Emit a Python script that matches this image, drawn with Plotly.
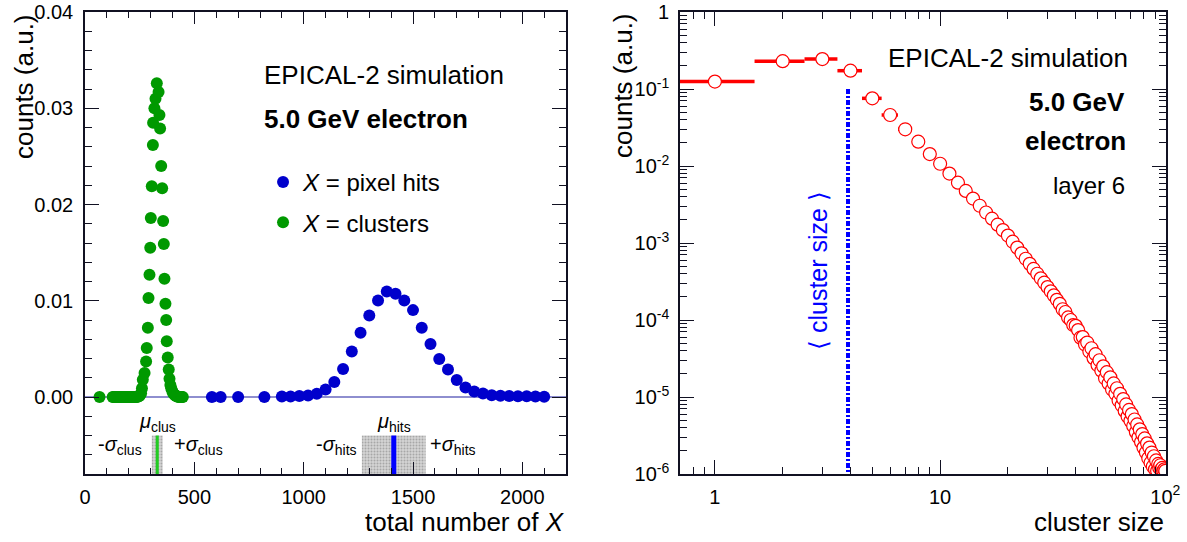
import plotly.graph_objects as go

# ---------------- left panel data ----------------
clus_x = [66, 126, 131, 135, 140, 144, 149, 153, 158, 162, 167, 171, 176, 180, 185,
          189, 194, 198, 203, 207, 212, 216, 221, 225, 230, 234, 239, 243, 248, 252,
          256, 260, 264, 272, 279, 282, 287, 290, 294.5, 298, 300.5, 305, 310, 311,
          317, 322, 328, 336, 340, 343, 348, 352.5, 357, 360, 363, 367.5, 371, 373.5,
          378, 382.5, 386, 390, 394, 399, 403, 408, 412, 417, 421, 425, 430, 434, 439,
          443, 447]
clus_y = [0, 0, 0, 0, 0, 0, 0, 0, 0, 0, 0, 0, 0, 0, 0,
          0, 0, 0, 0, 0, 0, 0, 0, 0, 0, 0, 0.00002, 0.00005, 0.0001, 0.0002,
          0.0004, 0.0009, 0.0018, 0.0025, 0.0037, 0.0051, 0.0072, 0.0103, 0.0127, 0.0155, 0.0186, 0.0219, 0.0262, 0.0285,
          0.0300, 0.0310, 0.0326, 0.0317, 0.0293, 0.0279, 0.0240, 0.0217, 0.0183, 0.0159, 0.0123, 0.0097, 0.0080, 0.0058,
          0.0041, 0.00285, 0.0019, 0.00125, 0.0009, 0.0006, 0.0004, 0.00025, 0.00015, 0.0001, 0.00005, 0.00002, 0, 0, 0,
          0, 0]

hits_x = [580, 620, 700, 820, 900, 940, 980, 1020, 1060, 1100, 1140, 1180, 1220, 1260,
          1300, 1340, 1380, 1420, 1460, 1500, 1540, 1580, 1620, 1660, 1700, 1740, 1780,
          1820, 1860, 1900, 1940, 1980, 2020, 2060, 2100]
hits_y = [0, 0, 0, 0, 0.00005, 0.00005, 0.0001, 0.00016, 0.00033, 0.00078, 0.00157, 0.00292,
          0.00472, 0.00668, 0.00848, 0.01004, 0.01097, 0.01073, 0.01004, 0.00903, 0.0072,
          0.00551, 0.00396, 0.00285, 0.00178, 0.00098, 0.00057, 0.00036, 0.00019, 0.00012,
          0.0001, 0.00008, 0.00008, 0.00006, 0.00003]

mu_clus, sigma_clus = 330, 25
mu_hits, sigma_hits = 1412, 146

# ---------------- right panel data ----------------
size_x = list(range(1, 101))
size_y = [0.125, 0.230, 0.245, 0.173, 0.0757, 0.046, 0.030, 0.0207, 0.0143, 0.0107,
          7.98e-3, 6.08e-3, 4.75e-3, 3.78e-3, 3.05e-3, 2.49e-3, 2.07e-3, 1.73e-3, 1.47e-3, 1.25e-3,
          1.04e-3, 8.71e-4, 7.35e-4, 6.25e-4, 5.36e-4, 4.61e-4, 3.99e-4, 3.48e-4, 3.05e-4, 2.68e-4,
          2.36e-4, 2.09e-4, 1.83e-4, 1.62e-4, 1.38e-4, 1.27e-4, 1.08e-4, 1.00e-4, 8.6e-5, 8.4e-5,
          7.4e-5, 5.9e-5, 6.0e-5, 4.8e-5, 5.1e-5, 3.9e-5, 4.3e-5, 3.2e-5, 3.6e-5, 2.6e-5,
          3.0e-5, 2.2e-5, 2.5e-5, 1.75e-5, 2.1e-5, 1.5e-5, 1.8e-5, 1.25e-5, 1.5e-5, 1.1e-5,
          1.3e-5, 9.0e-6, 1.1e-5, 7.8e-6, 9.4e-6, 6.6e-6, 8.0e-6, 5.6e-6, 6.8e-6, 4.9e-6,
          6.0e-6, 4.2e-6, 5.1e-6, 3.5e-6, 4.4e-6, 3.0e-6, 3.8e-6, 2.6e-6, 3.3e-6, 2.2e-6,
          2.9e-6, 1.9e-6, 2.5e-6, 1.6e-6, 2.2e-6, 1.4e-6, 1.9e-6, 1.25e-6, 1.7e-6, 1.15e-6,
          1.5e-6, 1.1e-6, 1.35e-6, 1.2e-6, 1.3e-6, 1.15e-6, 1.2e-6, 1.1e-6, 1.15e-6, 1.1e-6]
size_halfwidth = [0.5] * len(size_x)
mean_cluster_size = 3.9

# ---------------- styling ----------------
FONT = "Liberation Sans, Arial, Helvetica, sans-serif"
GREEN = "#009900"
BLUE = "#0000cc"
RED = "#ff0000"
AXC = "#111122"

fig = go.Figure()

# sigma bands (drawn first)
band_top, band_bot = -0.004, -0.008
for mu, sg in [(mu_clus, sigma_clus), (mu_hits, sigma_hits)]:
    fig.add_trace(go.Scatter(
        x=[mu - sg, mu + sg, mu + sg, mu - sg, mu - sg],
        y=[band_top, band_top, band_bot, band_bot, band_top],
        fill="toself", mode="lines", line=dict(width=0),
        fillcolor="#c8c8c8",
        fillpattern=dict(shape=".", fgcolor="#7a7a7a", bgcolor="#d4d4d4", size=3, solidity=0.35),
        showlegend=False, hoverinfo="skip", xaxis="x", yaxis="y"))
# mean lines
fig.add_trace(go.Scatter(x=[mu_clus, mu_clus], y=[band_top, band_bot], mode="lines",
                         line=dict(color="#22cc22", width=3), showlegend=False, xaxis="x", yaxis="y"))
fig.add_trace(go.Scatter(x=[mu_hits, mu_hits], y=[band_top, band_bot], mode="lines",
                         line=dict(color="#0000ff", width=5), showlegend=False, xaxis="x", yaxis="y"))

# data
fig.add_trace(go.Scatter(x=hits_x, y=hits_y, mode="markers", name="<i>X</i> = pixel hits",
                         marker=dict(color=BLUE, size=12, line=dict(width=0)),
                         legendgroup="a", xaxis="x", yaxis="y"))
fig.add_trace(go.Scatter(x=clus_x, y=clus_y, mode="markers", name="<i>X</i> = clusters",
                         marker=dict(color=GREEN, size=12, line=dict(width=0)),
                         legendgroup="b", xaxis="x", yaxis="y"))

# right panel
fig.add_trace(go.Scatter(x=[mean_cluster_size, mean_cluster_size], y=[0.1, 1e-6], mode="lines",
                         line=dict(color="#0000ff", width=4, dash="5px,2px,2px,2px"),
                         showlegend=False, xaxis="x2", yaxis="y2"))
fig.add_trace(go.Scatter(x=size_x, y=size_y, mode="markers",
                         error_x=dict(type="data", array=size_halfwidth, color=RED, thickness=3.5, width=0),
                         marker=dict(symbol="circle", size=13, color="white", line=dict(color=RED, width=1.2)),
                         showlegend=False, xaxis="x2", yaxis="y2"))

axis_common = dict(showline=True, linecolor=AXC, linewidth=1.5, mirror="ticks",
                   ticks="inside", tickcolor=AXC, tickwidth=1.2, showgrid=False,
                   zeroline=False, automargin=False,
                   tickfont=dict(size=20, color="black", family=FONT))

L_DOM = [0, 0.445]
R_DOM = [0.5504, 1]

fig.update_layout(
    width=1187, height=542,
    margin=dict(l=85, r=21, t=12, b=68),
    paper_bgcolor="white", plot_bgcolor="white",
    font=dict(family=FONT, color="black"),
    xaxis=dict(domain=L_DOM, anchor="y", range=[-0.5, 2200], tick0=0, dtick=500, ticklen=12,
               ticklabelstandoff=4,
               minor=dict(dtick=100, ticks="inside", ticklen=6, tickcolor=AXC), **axis_common),
    yaxis=dict(domain=[0, 1], anchor="x", range=[-0.008, 0.04001], tick0=0, dtick=0.01,
               tickformat=".2f", ticklen=14, ticklabelstandoff=6,
               minor=dict(dtick=0.002, tick0=0, ticks="inside", ticklen=7, tickcolor=AXC),
               **axis_common),
    xaxis2=dict(domain=R_DOM, anchor="y2", type="log", range=[-0.155, 2.003],
                tickmode="array", tickvals=[1, 10, 100], ticktext=["1", "10", "10<sup>2</sup>"],
                ticklen=14, ticklabelstandoff=4,
                minor=dict(tickmode="array",
                           tickvals=[0.8, 0.9] + [k for k in range(2, 10)] + [10 * k for k in range(2, 10)],
                           ticks="inside", ticklen=7, tickcolor=AXC),
                **axis_common),
    yaxis2=dict(domain=[0, 1], anchor="x2", type="log", range=[-6, 0.0005],
                tickmode="array", tickvals=[1e-6, 1e-5, 1e-4, 1e-3, 1e-2, 1e-1, 1],
                ticktext=["10<sup>-6</sup>", "10<sup>-5</sup>", "10<sup>-4</sup>", "10<sup>-3</sup>",
                          "10<sup>-2</sup>", "10<sup>-1</sup>", "1"],
                ticklen=14, ticklabelstandoff=5,
                minor=dict(tickmode="array",
                           tickvals=[k * 10 ** e for e in range(-6, 0) for k in range(2, 10)],
                           ticks="inside", ticklen=7, tickcolor=AXC),
                **axis_common),
    legend=dict(x=0.1647, y=0.68, xanchor="left", yanchor="top", traceorder="grouped",
                tracegroupgap=6, font=dict(size=24, family=FONT), bgcolor="rgba(0,0,0,0)"),
)

# zero line for left panel (histogram baseline)
fig.add_shape(type="line", xref="x domain", yref="y", x0=0, x1=1, y0=0, y1=0,
              line=dict(color="#1f1fa0", width=1.2), layer="below")

ann = []
def A(text, x, y, xref="paper", yref="paper", size=26, xanchor="left", yanchor="middle", **kw):
    ann.append(dict(text=text, x=x, y=y, xref=xref, yref=yref, showarrow=False,
                    font=dict(size=size, family=FONT, color=kw.pop("color", "black")),
                    xanchor=xanchor, yanchor=yanchor, **kw))

def px2paper(px, py):
    return (px - 85) / 1081.0, (474 - py) / 462.0

# left texts
A("EPICAL-2 simulation", *px2paper(262, 75))
A("<b>5.0 GeV electron</b>", *px2paper(262, 119))
# axis titles
A("counts (a.u.)", *px2paper(24, 86), xanchor="center", textangle=-90)
A("total number of <i>X</i>", *px2paper(567, 522), xanchor="right")
A("counts (a.u.)", *px2paper(623, 86), xanchor="center", textangle=-90)
A("cluster size", *px2paper(1166, 522), xanchor="right")
# right texts
A("EPICAL-2 simulation", *px2paper(886, 58))
A("<b>5.0 GeV</b>", *px2paper(1127, 102), xanchor="right")
A("<b>electron</b>", *px2paper(1128, 141), xanchor="right")
A("layer 6", *px2paper(1127, 185), xanchor="right", size=24)
A("\u27e8 cluster size \u27e9", *px2paper(818, 271), xanchor="center", textangle=-90,
  size=25, color="#0000ff")

# mu / sigma labels (left panel, data coords)
SG = 20
A("<i>μ</i><sub>clus</sub>", mu_clus, -0.0026, xref="x", yref="y", size=SG, xanchor="center")
A("-<i>σ</i><sub>clus</sub>", mu_clus - sigma_clus, -0.0050, xref="x", yref="y", size=SG,
  xanchor="right", xshift=-8)
A("+<i>σ</i><sub>clus</sub>", mu_clus + sigma_clus, -0.0050, xref="x", yref="y", size=SG,
  xanchor="left", xshift=9)
A("<i>μ</i><sub>hits</sub>", mu_hits, -0.0026, xref="x", yref="y", size=SG, xanchor="center")
A("-<i>σ</i><sub>hits</sub>", mu_hits - sigma_hits, -0.0050, xref="x", yref="y", size=SG,
  xanchor="right", xshift=-3)
A("+<i>σ</i><sub>hits</sub>", mu_hits + sigma_hits, -0.0050, xref="x", yref="y", size=SG,
  xanchor="left", xshift=2)

fig.update_layout(annotations=ann)
fig.write_html("out.html")
